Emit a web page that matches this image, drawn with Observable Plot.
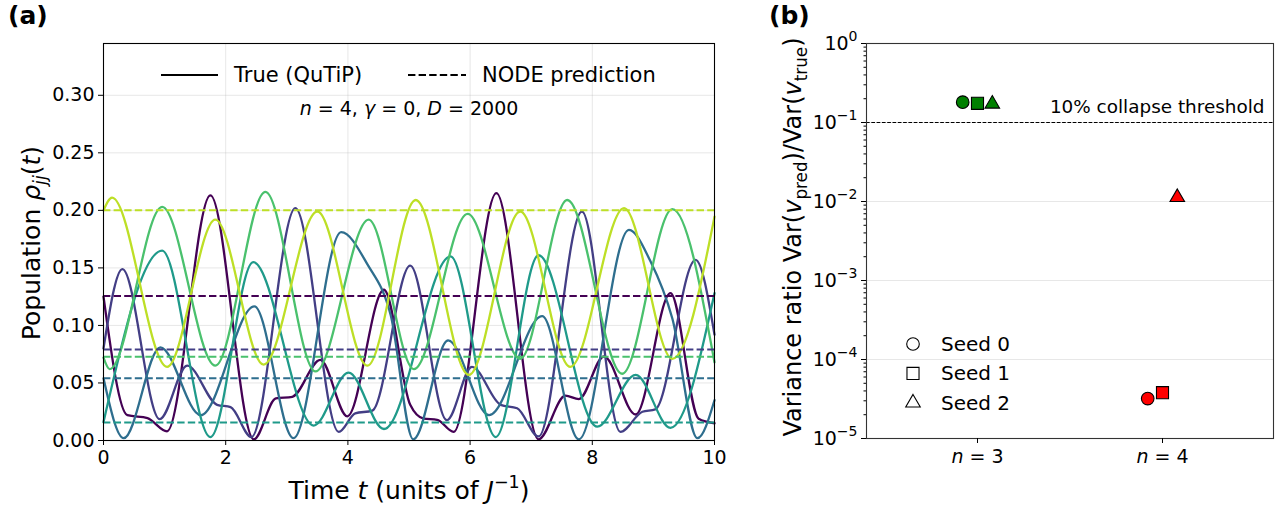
<!DOCTYPE html>
<html><head><meta charset="utf-8">
<script src="https://cdn.jsdelivr.net/npm/d3@7"></script>
<script src="https://cdn.jsdelivr.net/npm/@observablehq/plot@0.6"></script>
<style>
body{margin:0;background:#fff;font-family:"DejaVu Sans",sans-serif;}
#wrap{position:relative;width:1283px;height:506px;overflow:hidden;background:#fff}
.panel{position:absolute;top:0}
.plab{position:absolute;top:0;font-weight:bold;font-size:25px;font-family:"DejaVu Sans";line-height:32px}
</style></head><body><div id="wrap"></div>
<script>
// ---------- Panel (a) data ----------
const tTicks = [0, 2, 4, 6, 8, 10];
const popTicks = [0, 0.05, 0.10, 0.15, 0.20, 0.25, 0.30];
const seriesNames = ["j1", "j2", "j3", "j4", "j5", "j6"];
const seriesColors = ["#440154", "#433e85", "#2e6e8e", "#1f9a8a", "#4ac16d", "#bddf26"];
const nodePrediction = [0.1255, 0.079, 0.054, 0.0157, 0.0727, 0.200];
const true1 = [[0,0.125],[0.39,0.022],[0.72,0.0195],[1.04,0.008],[1.75,0.213],[2.46,0.001],[2.82,0.0365],[3.09,0.038],[3.55,0.070],[3.99,0.021],[4.59,0.131],[5.02,0.031],[5.24,0.019],[5.46,0.018],[5.73,0.0075],[6.43,0.215],[7.12,0.001],[7.56,0.039],[7.78,0.036],[8.19,0.073],[8.71,0.0226],[9.28,0.128],[9.74,0.019],[10,0.015]];
const true2 = [[0,0.080],[0.31,0.149],[0.92,0.0185],[1.37,0.065],[1.86,0.031],[2.08,0.029],[2.42,0.003],[3.14,0.202],[3.85,0.0075],[4.12,0.0235],[4.40,0.026],[5.02,0.152],[5.62,0.0177],[6.03,0.064],[6.50,0.031],[6.77,0.028],[7.12,0.0035],[7.83,0.199],[8.46,0.0075],[8.82,0.025],[9.03,0.027],[9.69,0.157],[10,0.092]];
const true3 = [[0,0.054],[0.33,0.002],[0.93,0.081],[1.59,0.022],[2.47,0.1165],[3.11,0.002],[3.89,0.181],[4.32,0.153],[4.70,0.109],[5.07,0.001],[5.64,0.087],[6.31,0.022],[7.18,0.108],[7.78,0.001],[8.60,0.183],[8.95,0.156],[9.31,0.106],[9.72,0.002],[10,0.035]];
const true4 = [[0,0.016],[0.96,0.165],[1.75,0.003],[2.45,0.155],[3.44,0.013],[4.01,0.059],[4.59,0.010],[5.68,0.160],[6.42,0.003],[7.12,0.161],[8.08,0.012],[8.71,0.057],[9.28,0.011],[10,0.128]];
const true5 = [[0,0.072],[0.1,0.062],[0.96,0.203],[1.83,0.065],[2.65,0.216],[3.47,0.060],[4.34,0.192],[5.08,0.062],[5.96,0.197],[6.82,0.071],[7.59,0.209],[8.49,0.058],[9.31,0.201],[10,0.068]];
const true6 = [[0,0.200],[0.14,0.211],[1.04,0.064],[1.83,0.192],[2.62,0.066],[3.50,0.199],[4.32,0.065],[5.11,0.209],[5.98,0.057],[6.82,0.199],[7.64,0.064],[8.52,0.202],[9.31,0.071],[10,0.1945]];

// ---------- Panel (b) data ----------
const categories = ["n = 3", "n = 4"];
const seeds = ["Seed 0", "Seed 1", "Seed 2"];
const seedSymbols = ["circle", "square", "triangle"];
const ratioN3 = [0.181, 0.175, 0.172];
const ratioN4 = [3.2e-5, 3.8e-5, 0.0113];
const categoryColors = ["#008000", "#ff0000"];
const threshold = 0.1;
const decades = [1e-5, 1e-4, 1e-3, 1e-2, 1e-1, 1];

// ---------- helpers ----------
const FONT = "DejaVu Sans";
function rich(parent, parts, fs, attrs) {
  const t = parent.append("text").attr("font-size", fs).attr("font-family", FONT).attr("fill", "#000")
    .attr("text-anchor", "start").attr("font-style", "normal");
  for (const k in attrs) t.attr(k, attrs[k]);
  let shift = 0;
  for (const p of parts) {
    const ts = t.append("tspan").text(p.t);
    if (p.i) ts.attr("font-style", "italic");
    let target = 0;
    if (p.sub) { target = 0.25 * fs; ts.attr("font-size", 0.7 * fs); }
    if (p.sup) { target = -0.42 * fs; ts.attr("font-size", 0.7 * fs); }
    if (target !== shift) { ts.attr("dy", target - shift); shift = target; }
  }
  return t;
}

const wrap = document.getElementById("wrap");

// ---------- Panel (a) ----------
const trueSets = [true1, true2, true3, true4, true5, true6];
const trueRows = trueSets.flatMap((arr, i) => arr.map(([t, v]) => ({s: seriesNames[i], t, v})));
const nodeRows = nodePrediction.map((v, i) => ({s: seriesNames[i], v}));

const left = Plot.plot({
  width: 730, height: 506,
  marginLeft: 103, marginRight: 16, marginTop: 43, marginBottom: 66,
  style: {fontFamily: FONT, fontSize: "19px", color: "#000", background: "transparent", overflow: "visible"},
  x: {domain: [0, 10]},
  y: {domain: [0, 0.345]},
  color: {domain: seriesNames, range: seriesColors},
  marks: [
    Plot.gridX(tTicks, {stroke: "#b0b0b0", strokeOpacity: 0.3, strokeWidth: 1}),
    Plot.gridY(popTicks, {stroke: "#b0b0b0", strokeOpacity: 0.3, strokeWidth: 1}),
    Plot.line(trueRows, {x: "t", y: "v", z: "s", stroke: "s", strokeWidth: 2.3, curve: "monotone-x"}),
    Plot.ruleY(nodeRows, {y: "v", stroke: "s", strokeWidth: 2, strokeDasharray: "7.4,3.2"}),
    Plot.frame({stroke: "#000", strokeWidth: 1.1}),
    Plot.axisX({ticks: tTicks, tickSize: 5, tickPadding: 5, label: null, fontSize: 19}),
    Plot.axisY({ticks: popTicks, tickSize: 5, tickPadding: 4, label: null, tickFormat: d3.format(".2f"), fontSize: 19})
  ]
});
left.classList.add("panel");
left.style.left = "0px";
wrap.appendChild(left);
{
  const s = d3.select(left);
  // legend
  s.append("line").attr("x1", 161).attr("x2", 218).attr("y1", 75).attr("y2", 75).attr("stroke", "#000").attr("stroke-width", 2);
  rich(s, [{t: "True (QuTiP)"}], 21, {x: 234, y: 75, dy: "0.35em"});
  s.append("line").attr("x1", 408).attr("x2", 466).attr("y1", 75).attr("y2", 75).attr("stroke", "#000").attr("stroke-width", 2).attr("stroke-dasharray", "7.4,3.2");
  rich(s, [{t: "NODE prediction"}], 21, {x: 482, y: 75, dy: "0.35em"});
  // annotation
  rich(s, [{t: "n", i: true}, {t: " = 4, "}, {t: "γ", i: true}, {t: " = 0, "}, {t: "D", i: true}, {t: " = 2000"}], 19,
    {x: 409, y: 108, dy: "0.35em", "text-anchor": "middle", style: "white-space:pre"});
  // axis labels
  rich(s, [{t: "Time "}, {t: "t", i: true}, {t: " (units of "}, {t: "J", i: true}, {t: "−1", sup: true}, {t: ")"}], 25,
    {x: 409, y: 490, dy: "0.35em", "text-anchor": "middle"});
  rich(s, [{t: "Population "}, {t: "ρ", i: true}, {t: "jj", i: true, sub: true}, {t: "(", }, {t: "t", i: true}, {t: ")"}], 25,
    {transform: "translate(31,243) rotate(-90)", "text-anchor": "middle", dy: "0.35em"});
}

// ---------- Panel (b) ----------
const seedOffsets = [-0.08, 0, 0.08];
const seedR = [6.3, 6.8, 5.4];
const ratioRows = [];
[ratioN3, ratioN4].forEach((arr, c) => arr.forEach((v, k) => ratioRows.push({c, k, x: c + seedOffsets[k], v, fill: categoryColors[c]})));
const minorTicks = [];
for (let e = -5; e < 0; e++) for (let m = 2; m <= 9; m++) minorTicks.push(m * Math.pow(10, e));

const right = Plot.plot({
  width: 543, height: 506,
  marginLeft: 126, marginRight: 10, marginTop: 43, marginBottom: 68,
  style: {fontFamily: FONT, fontSize: "19px", color: "#000", background: "transparent", overflow: "visible"},
  x: {domain: [-0.6, 1.6]},
  y: {type: "log", domain: [1e-5, 1]},
  color: {type: "identity"},
  marks: [
    Plot.gridY(decades.slice(1, -1), {stroke: "#b0b0b0", strokeOpacity: 0.3, strokeWidth: 1}),
    Plot.ruleY([threshold], {stroke: "#000", strokeWidth: 1, strokeDasharray: "3.7,1.6"}),
    Plot.text([threshold], {y: d => d, frameAnchor: "right", dx: -9, dy: -15, text: () => "10% collapse threshold", textAnchor: "end", fontSize: 18.4}),
    ...seeds.map((sd, k) => Plot.dot(ratioRows.filter(d => d.k === k), {x: "x", y: "v", symbol: seedSymbols[k], r: seedR[k], fill: "fill", stroke: "#000", strokeWidth: 1.1})),
    Plot.frame({stroke: "#333", strokeWidth: 1.1}),
    Plot.axisX({ticks: [0, 1], tickSize: 5, tickPadding: 6, label: null, tickFormat: i => categories[i], fontSize: 19}),
    Plot.axisY({ticks: minorTicks, tickSize: 2.5, label: null, tickFormat: () => ""}),
    Plot.axisY({ticks: decades, tickSize: 5, tickPadding: 4, label: null, tickFormat: d => String(Math.round(Math.log10(d))), fontSize: 19})
  ]
});
right.classList.add("panel");
right.style.left = "740px";
wrap.appendChild(right);
{
  const s = d3.select(right);
  // rich tick labels
  s.selectAll('[aria-label="y-axis tick label"] text').each(function () {
    const txt = this.textContent;
    if (!/^-?\d+$/.test(txt)) return;
    const el = d3.select(this);
    el.text("");
    el.append("tspan").text("10");
    el.append("tspan").attr("font-size", 14).attr("dy", -9).text(txt.replace("-", "−"));
  });
  s.selectAll('[aria-label="x-axis tick label"] text').each(function () {
    const txt = this.textContent;
    const el = d3.select(this).attr("style", "white-space:pre");
    el.text("");
    el.append("tspan").attr("font-style", "italic").text("n");
    el.append("tspan").text(txt.slice(1));
  });
  // y label
  rich(s, [{t: "Variance ratio Var("}, {t: "v", i: true}, {t: "pred", sub: true}, {t: ")/Var("}, {t: "v", i: true}, {t: "true", sub: true}, {t: ")"}], 24,
    {transform: "translate(53,237) rotate(-90)", "text-anchor": "middle", dy: "0.35em"});
  // seed legend
  const lx = 913 - 740, ly0 = 344, dy = 29.4;
  seeds.forEach((sd, k) => {
    const sym = [d3.symbolCircle, d3.symbolSquare, d3.symbolTriangle][k];
    const size = Math.PI * seedR[k] * seedR[k];
    s.append("path").attr("d", d3.symbol(sym, size)()).attr("transform", `translate(${lx},${ly0 + k * dy})`)
      .attr("fill", "none").attr("stroke", "#000").attr("stroke-width", 1.1);
    rich(s, [{t: sd}], 20, {x: 941 - 740, y: ly0 + k * dy, dy: "0.35em"});
  });
}

// panel labels
const la = document.createElement("div"); la.className = "plab"; la.style.left = "8px"; la.textContent = "(a)"; wrap.appendChild(la);
const lb = document.createElement("div"); lb.className = "plab"; lb.style.left = "769px"; lb.textContent = "(b)"; wrap.appendChild(lb);
</script></body></html>
